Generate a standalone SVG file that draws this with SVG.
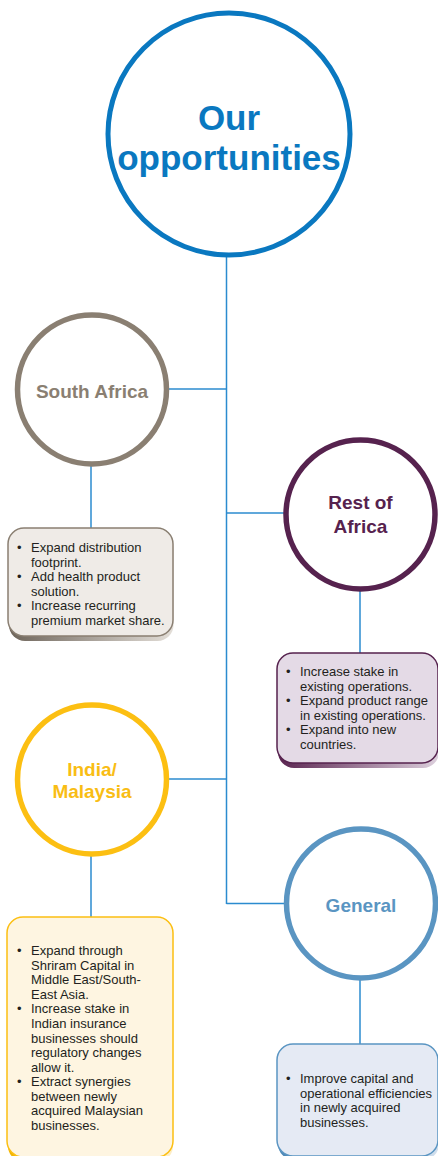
<svg xmlns="http://www.w3.org/2000/svg" width="438" height="1156" viewBox="0 0 438 1156">
<style>
.conn{stroke:#2b8bcf;stroke-width:1.5;fill:none}
.ring{fill:#fff;stroke-width:5.5}
.head{font-family:"Liberation Sans",Arial,sans-serif;font-weight:bold;text-anchor:middle}
.body{font-family:"Liberation Sans",Arial,sans-serif;font-size:13px;fill:#231f20}
.box{stroke-width:1.5}
</style>
<defs>
<linearGradient id="shSA" x1="0" y1="0" x2="1" y2="0"><stop offset="0" stop-color="#6e655b"/><stop offset="1" stop-color="#e3ded8"/></linearGradient>
<linearGradient id="shRA" x1="0" y1="0" x2="1" y2="0"><stop offset="0" stop-color="#5a2450"/><stop offset="1" stop-color="#ddd0dd"/></linearGradient>
<linearGradient id="shIN" x1="0" y1="0" x2="1" y2="0"><stop offset="0" stop-color="#f2b400"/><stop offset="1" stop-color="#fdeec8"/></linearGradient>
<linearGradient id="shGE" x1="0" y1="0" x2="1" y2="0"><stop offset="0" stop-color="#4a86b6"/><stop offset="1" stop-color="#d3e0ee"/></linearGradient>
</defs>

<g id="connectors">
<line class="conn" x1="226.5" y1="256" x2="226.5" y2="904"/>
<line class="conn" x1="168" y1="389" x2="226.5" y2="389"/>
<line class="conn" x1="226.5" y1="513" x2="285" y2="513"/>
<line class="conn" x1="168" y1="779" x2="226.5" y2="779"/>
<line class="conn" x1="226.5" y1="903.5" x2="285" y2="903.5"/>
<line class="conn" x1="91" y1="465" x2="91" y2="529"/>
<line class="conn" x1="360" y1="591" x2="360" y2="654"/>
<line class="conn" x1="91" y1="855" x2="91" y2="918"/>
<line class="conn" x1="360" y1="979" x2="360" y2="1045"/>
</g>

<g id="our-opportunities">
<circle cx="229" cy="134" r="121" fill="#fff" stroke="#0a78c0" stroke-width="5"/>
<text class="head" x="229" y="130" font-size="35" fill="#0a78c0">Our</text>
<text class="head" x="229" y="170" font-size="35" fill="#0a78c0">opportunities</text>
</g>

<g id="south-africa">
<circle class="ring" cx="92" cy="389.5" r="74.5" stroke="#8a7f72"/>
<text class="head" x="92" y="398" font-size="19" fill="#8a7f72">South Africa</text>
</g>

<g id="south-africa-box">
<rect x="9" y="533" width="164.5" height="108" rx="16" fill="url(#shSA)"/>
<rect class="box" x="8" y="528" width="165" height="108" rx="16" fill="#efebe7" stroke="#8a7f72"/>
<text class="body"><tspan x="17" y="552">•</tspan><tspan x="31" y="552">Expand distribution</tspan><tspan x="31" y="566.5">footprint.</tspan><tspan x="17" y="581">•</tspan><tspan x="31" y="581">Add health product</tspan><tspan x="31" y="595.5">solution.</tspan><tspan x="17" y="610">•</tspan><tspan x="31" y="610">Increase recurring</tspan><tspan x="31" y="624.5">premium market share.</tspan></text>
</g>

<g id="rest-of-africa">
<circle class="ring" cx="360.5" cy="514.5" r="74.5" stroke="#56224e"/>
<text class="head" x="360.5" y="509" font-size="19" fill="#56224e">Rest of</text>
<text class="head" x="360.5" y="533" font-size="19" fill="#56224e">Africa</text>
</g>

<g id="rest-of-africa-box">
<rect x="278" y="658" width="161" height="110" rx="16" fill="url(#shRA)"/>
<rect class="box" x="277" y="653" width="161" height="110" rx="16" fill="#e4dae6" stroke="#56224e"/>
<text class="body"><tspan x="286" y="676">•</tspan><tspan x="300" y="676">Increase stake in</tspan><tspan x="300" y="690.6">existing operations.</tspan><tspan x="286" y="705.2">•</tspan><tspan x="300" y="705.2">Expand product range</tspan><tspan x="300" y="719.8">in existing operations.</tspan><tspan x="286" y="734.4">•</tspan><tspan x="300" y="734.4">Expand into new</tspan><tspan x="300" y="749">countries.</tspan></text>
</g>

<g id="india-malaysia">
<circle class="ring" cx="92" cy="779.5" r="74.5" stroke="#fcbf12"/>
<text class="head" x="92" y="776" font-size="19" fill="#f9bd14">India/</text>
<text class="head" x="92" y="798" font-size="19" fill="#f9bd14">Malaysia</text>
</g>

<g id="india-malaysia-box">
<rect x="8" y="922" width="165" height="240" rx="16" fill="url(#shIN)"/>
<rect class="box" x="7" y="917" width="166" height="240" rx="16" fill="#fef5e1" stroke="#fcbf12"/>
<text class="body"><tspan x="17" y="955">•</tspan><tspan x="31" y="955">Expand through</tspan><tspan x="31" y="969.6">Shriram Capital in</tspan><tspan x="31" y="984.2">Middle East/South-</tspan><tspan x="31" y="998.7">East Asia.</tspan><tspan x="17" y="1013.3">•</tspan><tspan x="31" y="1013.3">Increase stake in</tspan><tspan x="31" y="1027.9">Indian insurance</tspan><tspan x="31" y="1042.5">businesses should</tspan><tspan x="31" y="1057.1">regulatory changes</tspan><tspan x="31" y="1071.6">allow it.</tspan><tspan x="17" y="1086.2">•</tspan><tspan x="31" y="1086.2">Extract synergies</tspan><tspan x="31" y="1100.8">between newly</tspan><tspan x="31" y="1115.4">acquired Malaysian</tspan><tspan x="31" y="1130">businesses.</tspan></text>
</g>

<g id="general">
<circle class="ring" cx="361" cy="903.5" r="74.5" stroke="#5a95c2"/>
<text class="head" x="361" y="912" font-size="19" fill="#5a95c2">General</text>
</g>

<g id="general-box">
<rect x="278" y="1048" width="161" height="112" rx="16" fill="url(#shGE)"/>
<rect class="box" x="277" y="1044" width="161" height="112" rx="16" fill="#e5eaf4" stroke="#5a95c2"/>
<text class="body"><tspan x="286" y="1083">•</tspan><tspan x="300" y="1083">Improve capital and</tspan><tspan x="300" y="1097.6">operational efficiencies</tspan><tspan x="300" y="1112.2">in newly acquired</tspan><tspan x="300" y="1126.8">businesses.</tspan></text>
</g>
</svg>
